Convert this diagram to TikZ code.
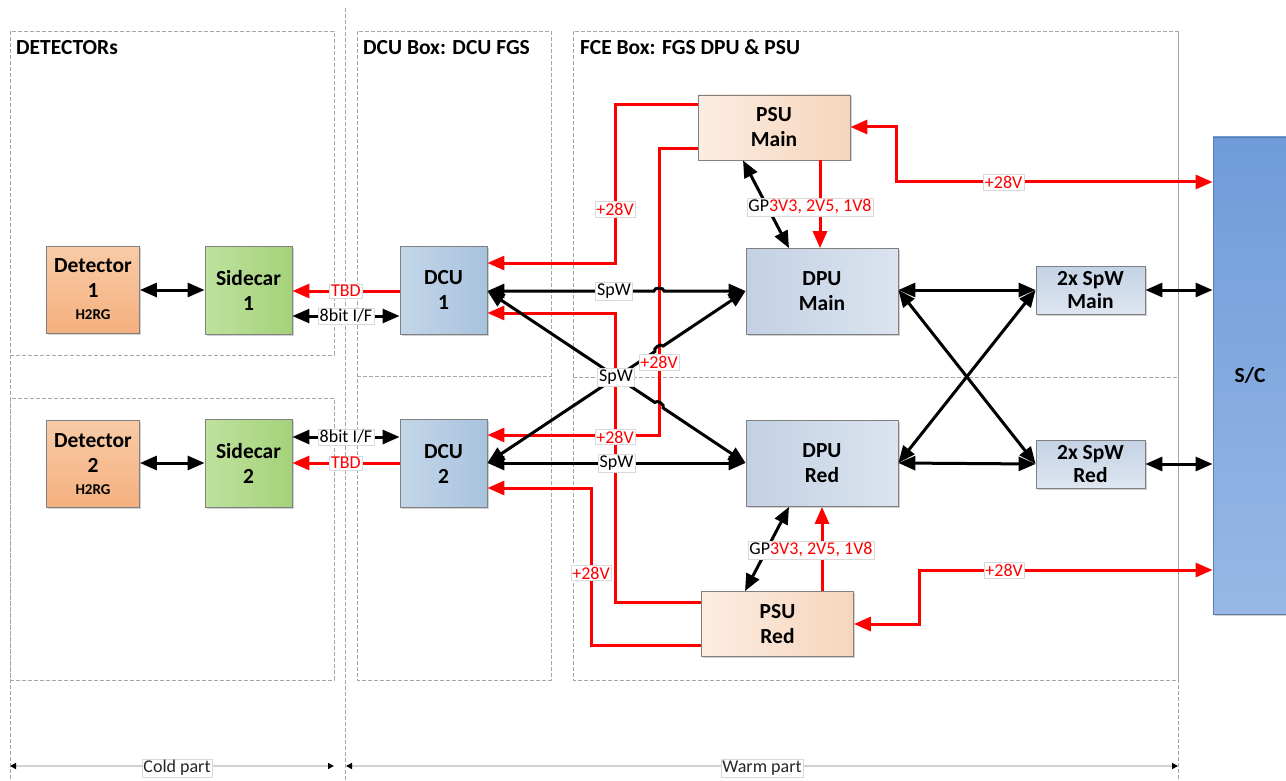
\documentclass[tikz,border=0pt]{standalone}
\usepackage{fontspec}
\setmainfont{Carlito}
\usetikzlibrary{arrows.meta,calc,shadows}
\definecolor{detT}{HTML}{F9CBA6}
\definecolor{detB}{HTML}{F4B07F}
\definecolor{scL}{HTML}{BEE29E}
\definecolor{scR}{HTML}{A4D27A}
\definecolor{dcuL}{HTML}{C4D6E9}
\definecolor{dcuR}{HTML}{A8C3DE}
\definecolor{psuL}{HTML}{FCEDE2}
\definecolor{psuR}{HTML}{F6D5BC}
\definecolor{dpuL}{HTML}{C3D1E4}
\definecolor{dpuR}{HTML}{DBE4EF}
\definecolor{spwT}{HTML}{C4D2E5}
\definecolor{spwB}{HTML}{DEE6F0}
\definecolor{scT}{HTML}{6E9CD8}
\definecolor{scB}{HTML}{98B8E6}
\definecolor{dashc}{HTML}{A6A6A6}
\definecolor{pwred}{HTML}{FF0000}
\newcommand\boxfont{\fontsize{21.5}{25}\selectfont\bfseries}
\newcommand\lblfont{\fontsize{18}{20}\selectfont}
\begin{document}
\begin{tikzpicture}[x=1pt,y=-1pt,
  BT/.tip={Triangle[length=17pt,width=14pt]},
  ST/.tip={Triangle[length=6pt,width=6pt,color=black]},
  box/.style={draw=black!50, line width=0.8pt, font=\boxfont, align=center, inner sep=1pt,
    drop shadow={shadow xshift=1.5pt, shadow yshift=-1.5pt, fill=black, opacity=0.18}},
  detbox/.style={box, top color=detT, bottom color=detB, minimum width=93pt, minimum height=87pt},
  scbox/.style={box, left color=scL, right color=scR, minimum width=87pt, minimum height=88pt},
  dcubox/.style={box, left color=dcuL, right color=dcuR, minimum width=87pt, minimum height=88pt},
  psubox/.style={box, left color=psuL, right color=psuR, minimum width=152pt, minimum height=65pt},
  dpubox/.style={box, left color=dpuL, right color=dpuR, minimum width=152pt, minimum height=86pt},
  spwbox/.style={box, top color=spwT, bottom color=spwB, minimum width=109pt, minimum height=48pt, inner sep=0pt},
  blk/.style={line width=3pt, black},
  pw/.style={line width=3pt, pwred},
  lbl/.style={fill=white, draw=black!15, line width=0.4pt, inner sep=1.5pt, font=\lblfont, text=black},
  rlbl/.style={lbl, text=pwred},
  dbox/.style={draw=dashc, line width=0.7pt, dash pattern=on 4pt off 2pt},
  dim/.style={draw=black!18, line width=2pt, {ST}-{ST}},
  title/.style={font=\boxfont, anchor=base west, inner sep=0pt}
]
\useasboundingbox (0,0) rectangle (1286,781);

% dashed frames
\draw[dbox] (10,31) rectangle (334,355);
\draw[dbox] (10,398) rectangle (334,680);
\draw[dbox] (357,31) rectangle (551,680);
\draw[dbox] (573,31) rectangle (1178,680);
\draw[dbox] (357,376) -- (551,376);
\draw[dbox] (573,377) -- (1178,377);
\draw[dbox] (10,31) -- (10,781);
\draw[dbox] (345,8) -- (345,781);
\draw[dbox] (1178,31) -- (1178,781);

\node[title] (t1) at (16,55) {DETECTORs};
\node[title] (t2) at (363,55) {DCU Box: DCU FGS};
\node[title] (t3) at (580,55) {FCE Box: FGS DPU \& PSU};

% blocks
\node[detbox] (det1) at (93,289.5) {Detector\\1\\[-3pt]{\fontsize{15}{16}\selectfont H2RG}};
\node[detbox] (det2) at (93,464) {Detector\\2\\[-3pt]{\fontsize{15}{16}\selectfont H2RG}};
\node[scbox] (sc1) at (248.5,290) {Sidecar\\1};
\node[scbox] (sc2) at (248.5,463.5) {Sidecar\\2};
\node[dcubox] (dcu1) at (443.5,290) {DCU\\1};
\node[dcubox] (dcu2) at (443.5,463.5) {DCU\\2};
\node[psubox] (psum) at (774,127.5) {PSU\\Main};
\node[psubox] (psur) at (777.5,624) {PSU\\Red};
\node[dpubox] (dpum) at (822,291.5) {DPU\\Main};
\node[dpubox] (dpur) at (822,463.5) {DPU\\Red};
\node[spwbox] (spwm) at (1090.5,290) {2x SpW\\[-2pt]Main};
\node[spwbox] (spwr) at (1090.5,464) {2x SpW\\[-2pt]Red};
\node[box, top color=scT, bottom color=scB, draw=scT!80!black, minimum width=74pt, minimum height=477pt] (sc) at (1250,375.5) {S/C};

% red power lines
\draw[pw,-{BT}] (psum.west |- 0,105) -- (615,105) -- coordinate[pos=0.66] (la) (615,263) -- (dcu1.east |- 0,263);
\draw[pw,-{BT}] (psum.west |- 0,149) -- (659,149) -- coordinate[pos=0.745] (lb) (659,435) -- (dcu2.east |- 0,435);
\draw[pw,-{BT}] (psur.west |- 0,602) -- (615,602) -- coordinate[pos=0.571] (lc) (615,313) -- (dcu1.east |- 0,313);
\draw[pw,-{BT}] (psur.west |- 0,645) -- (591,645) -- coordinate[pos=0.459] (ld) (591,488) -- (dcu2.east |- 0,488);
\draw[pw,{BT}-{BT}] (psum.east |- 0,127) -- (896,127) -- (896,182) -- coordinate[pos=0.34] (le) (sc.west |- 0,182);
\draw[pw,{BT}-{BT}] (psur.east |- 0,624) -- (919,624) -- (919,570) -- coordinate[pos=0.29] (lf) (sc.west |- 0,570);
\draw[pw,-{BT}] (psum.south -| 820,0) -- (dpum.north -| 820,0);
\draw[pw,-{BT}] (psur.north -| 822,0) -- (dpur.south -| 822,0);
\draw[pw,-{BT}] (dcu1.west |- 0,291) -- coordinate (lg) (sc1.east |- 0,291);
\draw[pw,-{BT}] (dcu2.west |- 0,463) -- coordinate (lh) (sc2.east |- 0,463);

% black links
\draw[blk,{BT}-{BT}] (det1.east |- 0,290) -- (sc1.west |- 0,290);
\draw[blk,{BT}-{BT}] (det2.east |- 0,463) -- (sc2.west |- 0,463);
\draw[blk,{BT}-{BT}] (sc1.east |- 0,316) -- coordinate (li) (dcu1.west |- 0,316);
\draw[blk,{BT}-{BT}] (sc2.east |- 0,437) -- coordinate (lj) (dcu2.west |- 0,437);

\coordinate (d1e) at (dcu1.east |- 0,291);
\coordinate (d2e) at (dcu2.east |- 0,463);
\coordinate (pmw) at (dpum.west |- 0,291);
\coordinate (prw) at (dpur.west |- 0,463);
\coordinate (hA) at (659,291);
\coordinate (hB) at (659,405.2);
\coordinate (hC) at (659,348.8);
\draw[blk,{BT}-{BT}] (d1e) -- coordinate[pos=0.76] (lk) ($(hA)!5pt!(d1e)$) to[bend left=90] ($(hA)!5pt!(pmw)$) -- (pmw);
\draw[blk,{BT}-{BT}] (d2e) -- coordinate (ll) (prw);
\draw[blk,{BT}-{BT}] (d1e) -- ($(hB)!5pt!(d1e)$) to[bend left=90] ($(hB)!5pt!(prw)$) -- (prw);
\draw[blk,{BT}-{BT}] (d2e) -- coordinate[pos=0.768] (lm) ($(hC)!5pt!(d2e)$) to[bend left=90] ($(hC)!5pt!(pmw)$) -- (pmw);

\draw[blk,{BT}-{BT}] (psum.south -| 743,0) -- (dpum.north -| 789,0);
\draw[blk,{BT}-{BT}] (psur.north -| 745,0) -- (dpur.south -| 789,0);

\draw[blk,{BT}-{BT}] (dpum.east |- 0,290) -- (spwm.west);
\draw[blk,{BT}-{BT}] (dpum.east |- 0,290) -- (spwr.west);
\draw[blk,{BT}-{BT}] (dpur.east |- 0,463) -- (spwm.west);
\draw[blk,{BT}-{BT}] (dpur.east |- 0,463) -- (spwr.west);
\draw[blk,{BT}-{BT}] (spwm.east) -- (sc.west |- spwm.east);
\draw[blk,{BT}-{BT}] (spwr.east) -- (sc.west |- spwr.east);

% labels
\node[rlbl] (La) at (la) {+28V};
\node[rlbl] (Lb) at (lb) {+28V};
\node[rlbl] (Lc) at (lc) {+28V};
\node[rlbl] (Ld) at (ld) {+28V};
\node[rlbl] (Le) at (le) {+28V};
\node[rlbl] (Lf) at (lf) {+28V};
\node[rlbl] (Lg) at (lg) {TBD};
\node[rlbl] (Lh) at (lh) {TBD};
\node[lbl] (Li) at (li) {8bit I/F};
\node[lbl] (Lj) at (lj) {8bit I/F};
\node[lbl] (Lk) at (lk) {SpW};
\node[lbl] (Ll) at (ll) {SpW};
\node[lbl] (Lm) at (lm) {SpW};
\node[lbl] (gp1) at (810,207) {GP\textcolor{pwred}{3V3, 2V5, 1V8}};
\node[lbl] (gp2) at (811,550) {GP\textcolor{pwred}{3V3, 2V5, 1V8}};

% dimension lines
\coordinate (c1) at (10,766);
\coordinate (c2) at (334,766);
\coordinate (w1) at (346,766);
\coordinate (w2) at (1178,766);
\draw[dim] (c1) -- (c2);
\draw[dim] (w1) -- (w2);
\node[lbl, text=black!85] (cold) at (177,768) {Cold part};
\node[lbl, text=black!85] (warm) at (762,768) {Warm part};
\end{tikzpicture}
\end{document}
